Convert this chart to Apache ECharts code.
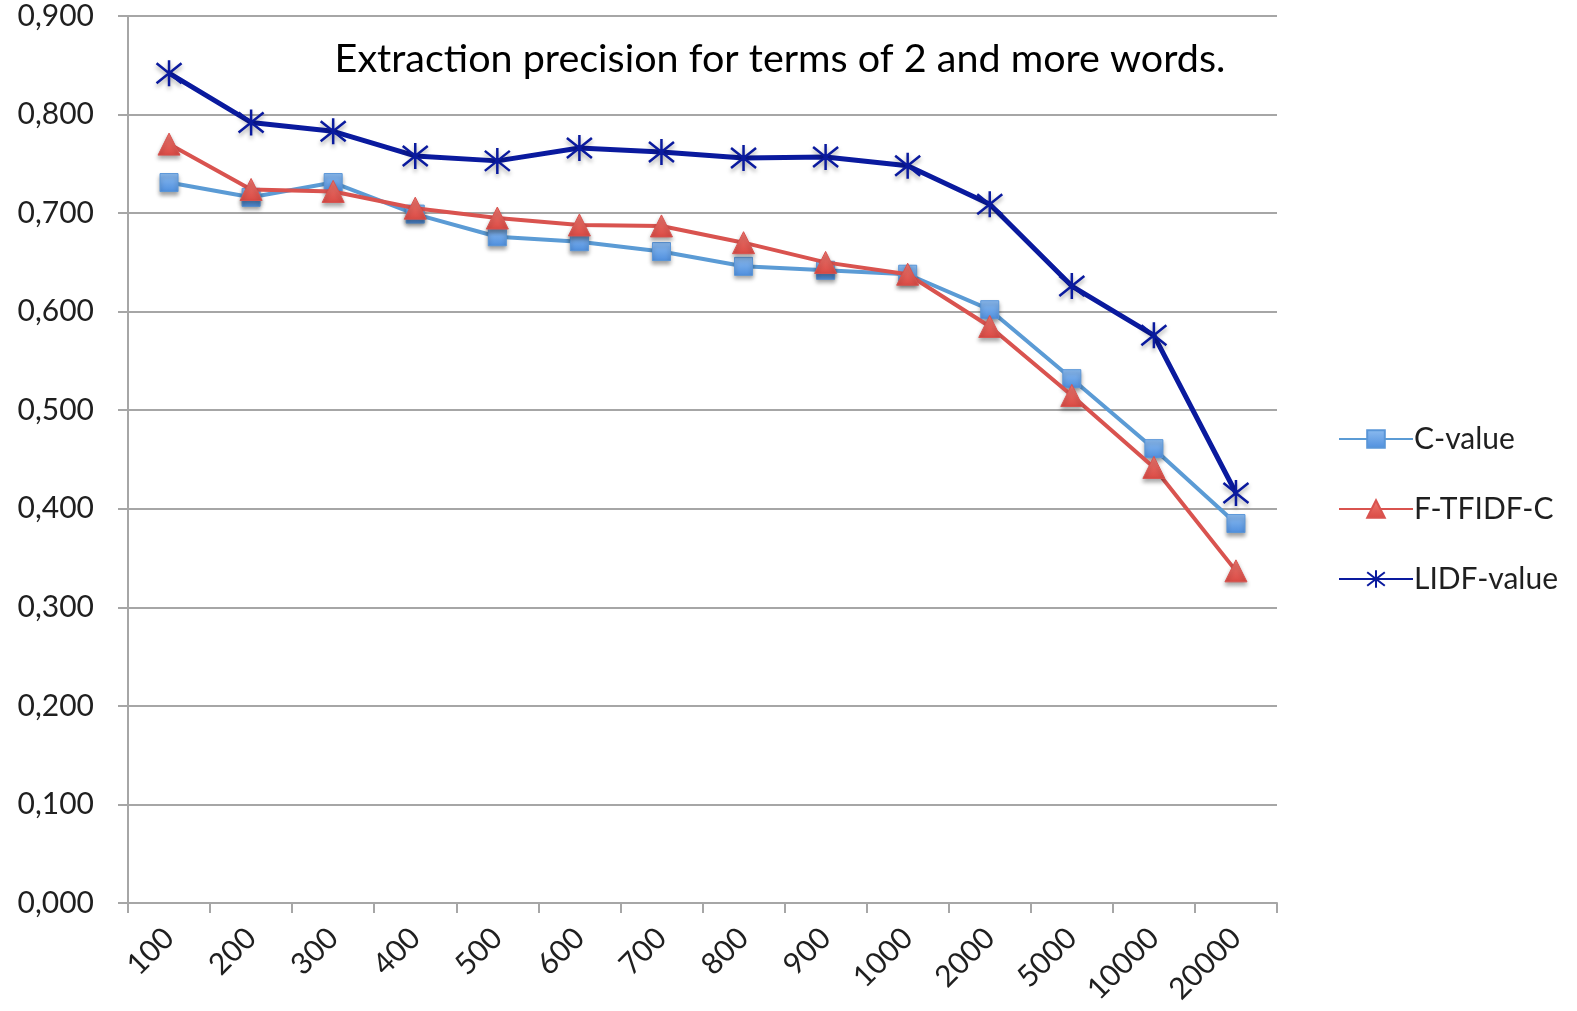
<!DOCTYPE html>
<html>
<head>
<meta charset="utf-8">
<script src="https://cdn.jsdelivr.net/npm/echarts@6/dist/echarts.min.js"></script>
<style>
  html, body { margin: 0; padding: 0; background: #ffffff; }
  #chart { width: 1577px; height: 1011px; }
</style>
</head>
<body>
<div id="chart"></div>
<script>
// Number of extracted terms (top-N cut-offs)
const categories = ['100', '200', '300', '400', '500', '600', '700', '800', '900', '1000', '2000', '5000', '10000', '20000'];

// Precision per method
const cValue   = [0.731, 0.716, 0.731, 0.699, 0.676, 0.671, 0.661, 0.646, 0.642, 0.638, 0.602, 0.532, 0.461, 0.385];
const fTfidfC  = [0.770, 0.724, 0.722, 0.705, 0.695, 0.688, 0.687, 0.670, 0.650, 0.638, 0.585, 0.515, 0.442, 0.337];
const lidfValue = [0.842, 0.792, 0.783, 0.758, 0.753, 0.766, 0.762, 0.756, 0.757, 0.748, 0.709, 0.626, 0.576, 0.416];

const seriesNames = ['C-value', 'F-TFIDF-C', 'LIDF-value'];
const titleText = 'Extraction precision for terms of 2 and more words.';

const FONT = 'Lato, "Open Sans", sans-serif';
const GRID_GRAY = '#a6a6a6';
const TEXT = '#1f1f1f';

// asterisk marker: vertical bar crossed by an X
const starPath = 'path://M0,-13L0,13M-12.5,-10L12.5,10M-12.5,10L12.5,-10';

const chart = echarts.init(document.getElementById('chart'), null, { renderer: 'canvas' });

const markerShadow = {
  shadowColor: 'rgba(0,0,0,0.35)',
  shadowBlur: 4,
  shadowOffsetY: 3
};

chart.setOption({
  animation: false,
  backgroundColor: '#ffffff',
  title: {
    text: titleText,
    left: 775,
    top: 34,
    textAlign: 'center',
    textStyle: { fontFamily: FONT, fontSize: 39.5, fontWeight: 'normal', color: '#000000' }
  },
  grid: { left: 128, right: 300, top: 16, bottom: 108, containLabel: false },
  legend: {
    orient: 'vertical',
    left: 1333,
    top: 419,
    itemWidth: 74,
    itemHeight: 22,
    itemGap: 40,
    data: seriesNames,
    textStyle: { fontFamily: FONT, fontSize: 30, color: TEXT, padding: [0, 0, 0, -4] }
  },
  xAxis: {
    type: 'category',
    data: categories,
    boundaryGap: true,
    axisLine: { lineStyle: { color: GRID_GRAY, width: 2 } },
    axisTick: { show: true, alignWithLabel: false, length: 10, lineStyle: { color: GRID_GRAY, width: 2 } },
    axisLabel: { rotate: 45, margin: 30, fontFamily: FONT, fontSize: 30, color: TEXT }
  },
  yAxis: {
    type: 'value',
    min: 0,
    max: 0.9,
    interval: 0.1,
    axisLine: { show: true, lineStyle: { color: GRID_GRAY, width: 2 } },
    axisTick: { show: true, length: 10, lineStyle: { color: GRID_GRAY, width: 2 } },
    splitLine: { lineStyle: { color: GRID_GRAY, width: 2 } },
    axisLabel: {
      margin: 34,
      fontFamily: FONT,
      fontSize: 30,
      color: TEXT,
      formatter: v => v.toFixed(3).replace('.', ',')
    }
  },
  series: [
    {
      name: seriesNames[0],
      type: 'line',
      data: cValue,
      symbol: 'rect',
      symbolSize: 18,
      lineStyle: { color: '#5b9bd5', width: 4 },
      itemStyle: Object.assign({
        color: new echarts.graphic.LinearGradient(0, 0, 0, 1, [
          { offset: 0, color: '#8dbcf0' },
          { offset: 1, color: '#4f8fde' }
        ]),
        borderColor: '#5a96d8',
        borderWidth: 1
      }, markerShadow),
      z: 3
    },
    {
      name: seriesNames[1],
      type: 'line',
      data: fTfidfC,
      symbol: 'triangle',
      symbolSize: 22,
      lineStyle: { color: '#d9534f', width: 4 },
      itemStyle: Object.assign({
        color: new echarts.graphic.LinearGradient(0, 0, 0, 1, [
          { offset: 0, color: '#f07a72' },
          { offset: 1, color: '#d94a44' }
        ]),
        borderColor: '#d9534f',
        borderWidth: 1
      }, markerShadow),
      z: 4
    },
    {
      name: seriesNames[2],
      type: 'line',
      data: lidfValue,
      symbol: starPath,
      symbolSize: 26,
      symbolKeepAspect: true,
      lineStyle: { color: '#0a1a9e', width: 5 },
      itemStyle: Object.assign({
        color: 'rgba(0,0,0,0)',
        borderColor: '#0a1a9e',
        borderWidth: 2.5
      }, markerShadow),
      z: 5
    }
  ]
});
</script>
</body>
</html>
